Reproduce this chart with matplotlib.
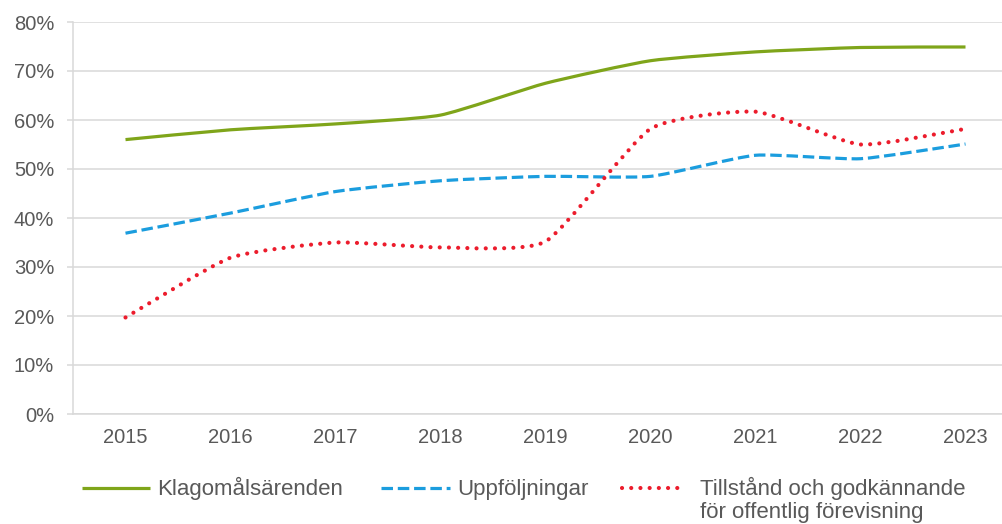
import numpy as np
import matplotlib
matplotlib.use('Agg')
import matplotlib.pyplot as plt
from matplotlib.path import Path
from matplotlib.patches import PathPatch
from matplotlib.lines import Line2D
from matplotlib.ticker import FuncFormatter

plt.rcParams['font.family'] = ['Liberation Sans', 'DejaVu Sans']

years = ['2015', '2016', '2017', '2018', '2019', '2020', '2021', '2022', '2023']
klagomal = [56.0, 58.0, 59.2, 61.0, 67.5, 72.1, 73.9, 74.8, 74.9]
uppfoljning = [36.9, 41.0, 45.4, 47.6, 48.5, 48.5, 52.8, 52.1, 55.1]
tillstand = [19.7, 31.9, 35.0, 34.0, 35.2, 58.2, 61.7, 55.0, 58.2]

labels = ['Klagomålsärenden', 'Uppföljningar',
          'Tillstånd och godkännande\nför offentlig förevisning']
colors = ['#7FA51A', '#1B9DDE', '#EC1C2C']
text_color = '#595959'
grid_color = '#D9D9D9'

W, H = 1003, 524
fig = plt.figure(figsize=(W / 100, H / 100), dpi=100)
# plot area: x 73..1018 px, y 22..414 px (right side cut by the canvas)
ax = fig.add_axes([73 / W, 1 - 414 / H, (1018 - 73) / W, (414 - 22) / H])


def smooth_path(xs, ys, k=0.09):
    # mildly smoothed line: cubic Bezier segments through the points
    p = np.column_stack([xs, ys]).astype(float)
    verts = [p[0]]
    codes = [Path.MOVETO]
    n = len(p)
    for i in range(n - 1):
        prev = p[i - 1] if i > 0 else p[i]
        nxt = p[i + 2] if i + 2 < n else p[i + 1]
        c1 = p[i] + (p[i + 1] - prev) * k
        c2 = p[i + 1] - (nxt - p[i]) * k
        verts += [c1, c2, p[i + 1]]
        codes += [Path.CURVE4] * 3
    return Path(verts, codes)


x = np.arange(len(years))
styles = [
    dict(linestyle='solid', linewidth=2.3, capstyle='butt'),
    dict(linestyle=(0, (3.6, 1.5)), linewidth=2.3, capstyle='butt'),
    dict(linestyle=(0, (0.01, 2.2)), linewidth=3.0, capstyle='round'),
]
for vals, col, st in zip([klagomal, uppfoljning, tillstand], colors, styles):
    patch = PathPatch(smooth_path(x, vals), facecolor='none', edgecolor=col,
                      zorder=3, **st)
    ax.add_patch(patch)

ax.set_xlim(-0.5, len(years) - 0.5)
ax.set_ylim(0, 80)
ax.set_xticks(x)
ax.set_xticklabels(years)
ax.set_yticks(np.arange(0, 81, 10))
ax.yaxis.set_major_formatter(FuncFormatter(lambda v, pos: f'{v:.0f}%'))

ax.grid(axis='y', color=grid_color, linewidth=1.1)
ax.set_axisbelow(True)
for side in ['top', 'right']:
    ax.spines[side].set_visible(False)
for side in ['left', 'bottom']:
    ax.spines[side].set_color(grid_color)
    ax.spines[side].set_linewidth(1.1)

ax.tick_params(axis='y', length=4.5, width=1.1, color=grid_color, pad=9,
               labelsize=14.5, labelcolor=text_color)
ax.tick_params(axis='x', length=0, pad=10, labelsize=14.5, labelcolor=text_color)

# legend drawn by hand, one row, last label wrapped on two lines
leg_y = 488
leg_base = 495
handles_px = [(82, 150, 157), (381, 450, 457), (622, 686, 700)]
for (x0, x1, tx), lab, col, st in zip(handles_px, labels, colors, styles):
    fig.add_artist(Line2D([x0 / W, x1 / W], [1 - leg_y / H, 1 - leg_y / H],
                          transform=fig.transFigure, color=col,
                          linestyle=st['linestyle'], linewidth=st['linewidth'],
                          solid_capstyle=st['capstyle'],
                          dash_capstyle=st['capstyle']))
    for k, line in enumerate(lab.split('\n')):
        fig.text(tx / W, 1 - (leg_base + 23 * k) / H, line, fontsize=16,
                 color=text_color, va='baseline', ha='left')

fig.savefig('out.png', dpi=100)
